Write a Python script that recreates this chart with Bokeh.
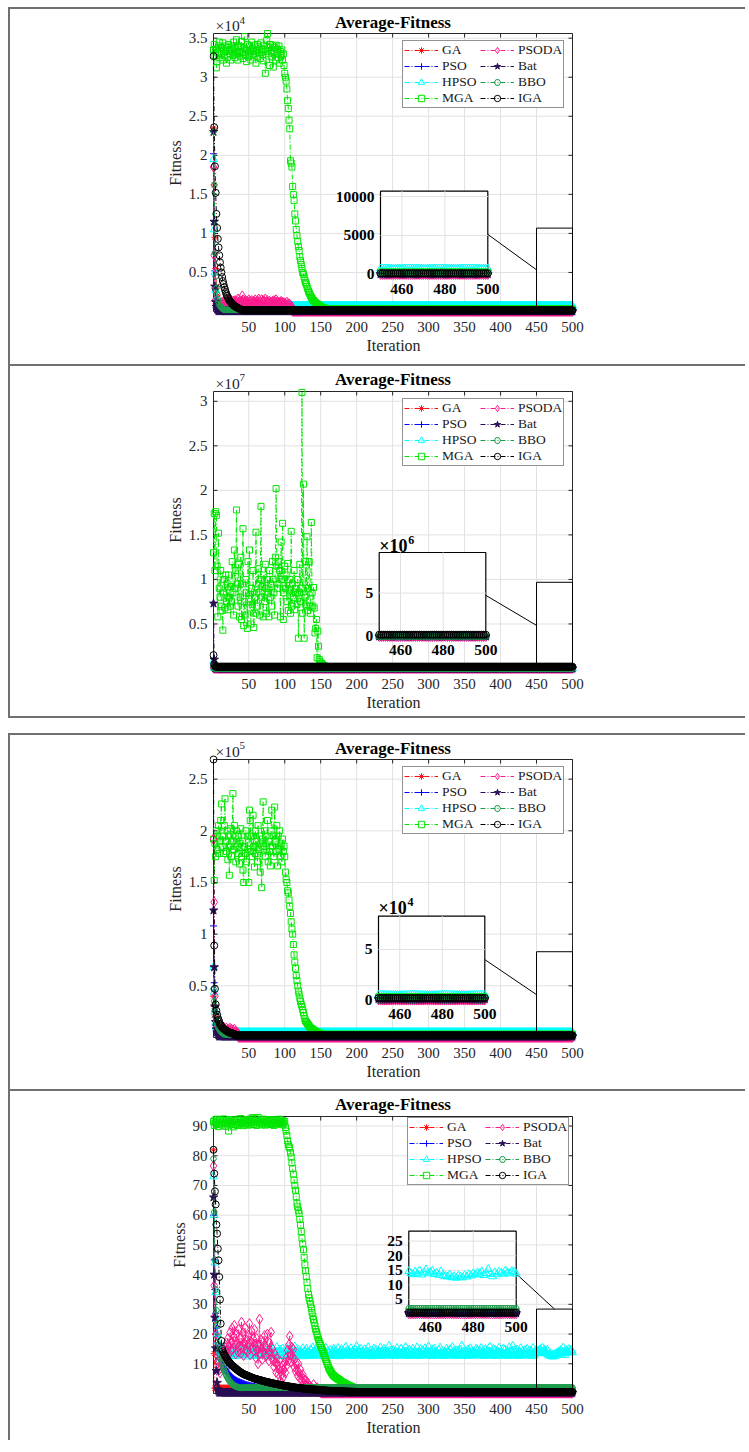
from bokeh.plotting import figure
from bokeh.models import (ColumnDataSource, Range1d, FixedTicker, NumeralTickFormatter,
                          Legend, LegendItem, Spacer)
from bokeh.layouts import column, row
from bokeh.embed import file_html
from bokeh.resources import INLINE
from bokeh.core.properties import value

N = 500
ITER = list(range(1, N + 1))
X_TICKS = [50, 100, 150, 200, 250, 300, 350, 400, 450, 500]
INSET_X_TICKS = [460, 480, 500]
SERIES = ["GA", "PSO", "HPSO", "MGA", "PSODA", "Bat", "BBO", "IGA"]
TITLE = "Average-Fitness"


def run(head, steady):
    """values read for the first iterations, then the steady value read for the rest"""
    return list(head) + [steady] * (N - len(head))


def nums(s):
    return [float(v) for v in s.split()]


# ---------------- panel 1 (x 10^4) ----------------
GA_1 = run([2.35, 1.62, 0.95, 0.55, 0.32, 0.2, 0.13, 0.09, 0.06, 0.05, 0.04, 0.03], 0.02)
PSO_1 = run([2.02, 1.12, 0.52, 0.28, 0.16, 0.1, 0.07, 0.05, 0.04, 0.03], 0.015)
HPSO_1 = run([1.95, 1.05, 0.5, 0.27, 0.16, 0.11, 0.09, 0.08], 0.075)
MGA_1 = run(nums("""
3.35 3.42 3.28 3.36 3.12 3.20 3.31 3.40 3.45 3.25
3.38 3.30 3.22 3.44 3.35 3.28 3.40 3.33 3.18 3.38
3.26 3.42 3.35 3.30 3.22 3.40 3.36 3.28 3.45 3.32
3.25 3.38 3.48 3.30 3.22 3.40 3.33 3.27 3.39 3.46
3.31 3.24 3.37 3.52 3.29 3.35 3.20 3.42 3.34 3.26
3.40 3.31 3.22 3.45 3.36 3.28 3.33 3.41 3.30 3.18
3.35 3.42 3.27 3.39 3.32 3.24 3.44 3.36 3.29 3.21
3.35 3.41 3.05 3.33 3.47 3.56 3.30 3.38 3.15 3.42
3.34 3.26 3.40 3.13 3.32 3.38 3.22 3.41 3.30 3.36
3.25 3.40 3.18 3.33 3.28 3.35 3.22 3.30 3.15 3.05
3.00 2.95 2.85 2.70 2.60 2.45 2.34 1.93 1.90 1.85
1.60 1.50 1.42 1.25 1.16 1.05 0.97 0.90 0.83 0.78
0.70 0.65 0.60 0.55 0.50 0.48 0.44 0.40 0.37 0.35
0.32 0.29 0.26 0.24 0.22 0.20 0.18 0.17 0.15 0.14
0.13 0.12 0.11 0.10 0.10 0.09 0.08 0.08 0.07 0.06
0.06 0.05 0.05 0.05 0.04 0.04 0.04 0.03 0.03 0.03
"""), 0.03)
PSODA_1 = run([1.85, 0.72, 0.3, 0.15, 0.1, 0.08, 0.06, 0.05, 0.05, 0.06] + nums("""
0.08 0.10 0.12 0.09 0.11 0.13 0.10 0.12 0.14 0.11
0.09 0.13 0.15 0.12 0.10 0.14 0.12 0.09 0.13 0.11
0.14 0.12 0.10 0.13 0.16 0.12 0.11 0.14 0.10 0.13
0.20 0.15 0.12 0.10 0.14 0.11 0.13 0.09 0.12 0.15
0.11 0.13 0.10 0.14 0.12 0.09 0.13 0.11 0.15 0.12
0.10 0.14 0.12 0.16 0.11 0.13 0.10 0.15 0.12 0.14
0.11 0.13 0.16 0.12 0.10 0.14 0.12 0.11 0.13 0.10
0.12 0.09 0.13 0.11 0.14 0.10 0.12 0.15 0.11 0.13
0.10 0.12 0.09 0.11 0.13 0.10 0.12 0.08 0.11 0.09
0.10 0.08 0.12 0.09 0.07 0.10 0.06 0.08 0.05 0.06
"""), 0.0)
Bat_1 = run([2.3, 1.15, 0.32, 0.12, 0.06, 0.03, 0.02], 0.005)
BBO_1 = run([2.3, 1.62, 0.75, 0.45, 0.3, 0.22, 0.16, 0.12, 0.09, 0.07, 0.06, 0.05,
             0.04, 0.035, 0.03], 0.02)
IGA_1 = run([3.27, 2.36, 1.86, 1.52, 1.25, 1.07, 0.93, 0.82, 0.72, 0.63, 0.56, 0.5,
             0.44, 0.39, 0.35, 0.31, 0.28, 0.25, 0.22, 0.2, 0.18, 0.16, 0.14, 0.13,
             0.12, 0.11, 0.1, 0.09, 0.08, 0.07, 0.065, 0.06, 0.055, 0.05, 0.045,
             0.04, 0.035, 0.03, 0.03, 0.025], 0.015)

# ---------------- panel 2 (x 10^7) ----------------
GA_2 = run([0.02, 0.005], 0.0)
PSO_2 = run([0.03, 0.005], 0.0)
HPSO_2 = run([0.08, 0.01], 0.003)
MGA_2 = run(nums("""
1.30 1.74 1.10 1.76 1.72 1.15 0.58 1.52 0.90 0.80
1.10 0.70 0.65 0.43 0.85 1.00 0.68 1.05 0.75 0.95
0.66 1.05 0.80 0.70 0.92 0.75 1.20 0.85 0.60 1.33
0.90 1.10 1.78 0.95 0.70 1.17 0.58 0.80 1.25 0.55
0.95 1.57 0.48 0.75 0.60 1.00 0.85 0.45 1.20 0.78
1.33 0.68 0.50 0.90 0.72 1.10 0.46 0.80 0.62 1.53
0.85 0.70 1.12 0.95 0.60 1.00 1.82 0.80 0.92 0.58
1.05 0.75 1.17 0.90 0.62 1.00 0.85 0.58 1.10 0.80
0.95 0.70 1.20 1.00 0.85 0.60 1.25 2.02 1.15 0.90
1.20 0.95 1.10 0.58 1.42 1.00 1.63 0.55 0.85 1.15
0.90 1.05 0.75 1.18 0.65 0.88 1.00 0.62 1.54 0.70
0.95 0.80 1.10 0.66 0.85 0.90 0.72 1.00 0.34 0.85
1.17 0.75 0.90 3.10 0.62 2.07 0.34 0.80 1.20 0.70
1.48 0.65 0.90 1.20 0.70 0.62 1.64 0.85 0.70 0.91
0.68 0.40 0.45 0.55 0.12 0.42 0.25 0.10 0.08 0.06
0.06 0.05 0.04 0.03 0.03 0.02 0.02 0.01 0.01 0.01
"""), 0.003)
PSODA_2 = run([0.01], 0.0)
Bat_2 = run([0.73, 0.1, 0.01], 0.0)
BBO_2 = run([0.02, 0.005], 0.0)
IGA_2 = run([0.15, 0.05, 0.03], 0.02)

# ---------------- panel 3 (x 10^5) ----------------
GA_3 = run([0.4, 0.3, 0.22, 0.12, 0.08, 0.06, 0.05, 0.04, 0.03], 0.02)
PSO_3 = run([1.08, 0.53, 0.25, 0.12, 0.08, 0.05, 0.04, 0.03], 0.02)
HPSO_3 = run([0.68, 0.44, 0.25, 0.14, 0.1, 0.08, 0.07, 0.06], 0.05)
MGA_3 = run(nums("""
1.92 1.52 1.88 1.75 2.00 1.82 1.95 2.05 1.78 1.90
2.10 2.26 1.85 1.95 1.78 2.05 2.31 1.90 1.80 2.00
1.72 1.95 1.57 1.85 2.02 1.75 1.90 2.36 1.82 2.05
1.95 1.70 2.00 1.85 1.78 1.95 1.68 1.88 2.02 1.75
1.90 1.62 1.50 1.85 1.78 2.00 1.70 1.95 1.82 1.50
2.20 2.10 1.80 1.95 1.75 2.15 1.85 1.65 2.00 1.78
1.90 1.70 2.05 1.82 1.95 1.60 1.88 1.45 1.92 2.28
1.85 2.00 1.75 1.95 1.82 2.10 1.70 1.90 1.80 1.66
2.00 2.20 1.85 1.95 1.75 2.23 1.90 1.80 2.05 1.66
1.95 1.82 2.00 1.75 1.88 1.70 1.92 1.80 1.85 1.75
1.60 1.53 1.50 1.42 1.40 1.33 1.27 1.20 1.12 1.05
1.00 0.90 0.80 0.73 0.67 0.60 0.55 0.50 0.45 0.42
0.38 0.35 0.32 0.30 0.27 0.24 0.21 0.18 0.16 0.15
0.14 0.13 0.12 0.11 0.10 0.09 0.09 0.08 0.08 0.07
0.07 0.06 0.06 0.05 0.05 0.05 0.04 0.04 0.04 0.03
"""), 0.03)
PSODA_3 = run([1.92, 1.31, 0.4, 0.2, 0.12, 0.09, 0.08, 0.07, 0.06, 0.05, 0.06, 0.07,
               0.09, 0.08, 0.1, 0.07, 0.08, 0.06, 0.09, 0.07, 0.08, 0.06, 0.07, 0.09,
               0.06, 0.08, 0.05, 0.07, 0.06, 0.08, 0.05, 0.06, 0.04, 0.05, 0.04], 0.0)
Bat_3 = run([1.23, 0.68, 0.3, 0.15, 0.08, 0.05, 0.03, 0.02], 0.01)
BBO_3 = run([0.47, 0.35, 0.26, 0.2, 0.16, 0.13, 0.11, 0.09, 0.08, 0.07, 0.06, 0.05,
             0.045, 0.04, 0.035], 0.03)
IGA_3 = run([2.69, 0.89, 0.47, 0.32, 0.26, 0.22, 0.19, 0.17, 0.15, 0.13, 0.12, 0.11,
             0.1, 0.09, 0.085, 0.08, 0.075, 0.07, 0.065, 0.06, 0.055, 0.05, 0.048,
             0.046, 0.044, 0.042, 0.04, 0.038, 0.036, 0.034], 0.02)

# ---------------- panel 4 (raw) ----------------
GA_4 = run([82.0, 13.4] + [1.8] * 45, 0.3)
PSO_4 = run(nums("""
60 45 35 27 22 19 17 15.5 14 13
12 11.3 10.6 10 9.4 8.9 8.4 8 7.6 7.2
6.9 6.6 6.3 6.0 5.8 5.6 5.4 5.2 5.0 4.8
4.6 4.5 4.4 4.2 4.1 4.0 3.9 3.8 3.7 3.6
3.5 3.4 3.3 3.2 3.1 3.0 2.9 2.85 2.8 2.7
2.65 2.6 2.55 2.5 2.45 2.4 2.35 2.3 2.25 2.2
2.15 2.1 2.05 2.0 1.98 1.95 1.92 1.9 1.87 1.85
1.82 1.8 1.77 1.75 1.72 1.7 1.68 1.66 1.64 1.62
1.6 1.58 1.56 1.54 1.52 1.5 1.48 1.46 1.44 1.42
1.4 1.38 1.36 1.34 1.32 1.3 1.28 1.26 1.24 1.22
"""), 0.8)
HPSO_4 = [73.0, 60.0, 44.0, 34.0, 25.0, 20.0, 17.5, 16.0, 15.0, 14.5] + nums("""
14.2 13.1 15.0 13.6 12.8 14.4 13.3 15.6 13.9 12.6
13.8 14.7 12.9 13.4 15.2 13.0 14.1 12.7 13.7 14.9
13.2 12.5 14.3 13.9 15.8 13.4 12.8 14.0 13.5 16.0
13.1 14.6 12.9 13.7 14.2 12.4 13.6 15.1 13.3 12.9
14.4 13.0 15.4 13.8 12.7 14.1 13.4 12.6 15.0 13.7
12.9 14.3 13.5 16.2 13.1 12.8 14.5 13.2 14.0 12.6
13.9 15.3 13.0 12.5 14.2 13.6 12.9 14.8 13.4 13.0
14.6 12.7 13.5 15.0 13.2 14.1 12.8 13.7 15.6 13.1
12.6 14.0 13.3 14.7 12.9 13.8 15.1 13.0 12.5 14.4
13.6 12.9 15.4 13.2 14.1 12.7 13.9 14.6 13.0 12.8
14.3 13.5 12.6 15.8 13.1 14.0 13.4 12.9 14.7 13.3
12.8 14.2 13.6 13.0 15.2 12.5 13.8 14.4 13.1 15.0
13.4 12.7 14.1 13.9 12.9 14.8 13.2 12.6 15.5 13.7
14.0 13.1 12.8 14.5 13.5 16.1 13.0 12.7 14.2 13.6
12.9 15.1 13.4 12.6 14.0 13.8 15.4 13.1 12.8 14.3
13.5 12.7 14.6 13.2 12.9 14.1 13.7 15.0 12.6 13.9
14.4 13.0 12.8 15.3 13.6 12.5 14.2 13.3 14.9 13.1
12.7 14.0 13.5 12.9 15.7 13.2 14.5 12.8 13.8 14.1
13.3 15.2 12.6 13.9 14.3 13.0 12.8 14.7 13.4 15.9
13.1 12.9 14.4 13.6 12.7 15.0 13.8 13.2 14.0 12.6
14.8 13.4 12.8 14.1 13.0 15.5 13.6 12.9 14.3 13.2
12.5 14.0 13.7 15.1 13.1 12.8 14.6 13.5 12.7 14.2
13.9 13.0 15.4 12.6 14.1 13.3 12.9 15.0 13.6 14.4
13.2 12.7 14.0 13.8 16.0 13.1 12.8 14.5 13.4 12.9
14.6 13.5 12.6 14.2 13.0 15.3 13.7 12.8 14.0 13.3
12.9 15.1 13.4 12.7 14.4 13.9 13.0 15.6 12.8 14.1
13.6 12.6 14.8 13.2 12.9 14.3 13.5 15.0 13.1 12.7
14.2 13.8 12.8 15.5 13.3 14.0 12.6 13.7 14.9 13.0
12.8 14.5 13.1 12.9 15.2 13.6 14.1 12.7 13.4 15.8
13.0 12.9 14.3 13.7 12.6 14.8 13.2 15.1 13.9 12.8
14.1 13.4 12.7 14.6 13.0 15.4 13.5 12.8 14.2 13.3
12.6 14.0 13.8 12.9 15.0 13.1 14.4 13.6 12.7 14.9
13.5 12.8 15.6 13.2 14.1 12.9 13.7 14.5 13.0 12.6
14.3 13.1 12.8 14.7 13.4 16.1 13.0 12.7 14.0 13.6
12.9 14.2 13.3 12.6 14.8 13.8 12.9 15.2 13.1 14.4
13.7 12.7 14.1 13.5 12.8 15.0 13.2 14.6 12.9 13.9
14.5 13.0 15.3 12.8 13.6 14.2 12.6 13.4 14.9 13.1
12.8 14.4 13.7 12.9 15.7 13.3 14.0 12.7 13.8 15.0
13.2 12.6 14.6 13.9 12.9 14.1 13.5 15.4 13.0 12.8
14.0 13.6 12.7 15.1 13.2 14.7 12.9 13.4 14.3 13.8
12.6 15.5 13.1 12.8 14.2 13.7 16.0 13.0 12.9 14.5
13.4 12.7 14.8 13.2 12.6 14.0 13.9 15.2 13.1 12.8
14.3 13.5 12.9 14.6 13.0 12.7 15.0 13.6 14.1 12.9
13.1 14.4 13.8 12.6 15.3 13.2 12.8 14.0 13.5 14.7
14.0 13.6 14.5 13.8 14.9 13.5 14.2 15.3 13.9 14.4
14.8 13.7 14.1 13.4 14.6 13.2 13.0 12.8 13.5 12.6
12.9 12.4 13.1 12.7 12.5 13.3 12.8 13.6 13.2 13.9
13.5 14.2 13.8 14.6 13.3 14.0 15.4 13.7 12.9 14.3
13.6 14.5 14.1 13.8 14.9 14.2 13.9 14.7 14.4 13.8
""")
MGA_4 = run(nums("""
91.5 90.2 92.0 91.0 90.5 92.3 91.2 89.8 91.8 90.6
92.1 91.0 90.3 91.7 92.4 90.8 91.3 89.9 91.9 90.7
91.4 88.3 92.2 90.9 91.6 90.4 92.0 91.1 89.7 91.8
90.5 91.9 91.2 90.2 92.3 91.0 90.6 91.7 92.5 90.9
91.3 90.1 92.0 91.5 90.4 91.8 90.8 92.2 91.1 90.3
91.7 92.4 90.6 91.2 92.8 91.0 90.5 91.9 92.6 91.3
90.2 91.8 92.9 91.4 90.7 92.1 91.0 90.4 91.6 92.3
90.9 91.5 90.3 92.0 91.2 90.6 91.8 92.2 90.8 91.4
92.0 90.5 91.7 91.1 90.2 92.1 91.3 90.8 91.9 91.0
90.6 92.3 91.4 90.9 92.0 91.2 90.4 91.7 90.8 91.5
89.5 88.3 86.8 85.0 83.8 83.0 82.6 81.0 79.6 77.6
75.7 73.8 71.8 70.0 68.4 66.2 64.0 62.8 61.5 60.6
58.6 56.7 54.5 52.3 50.3 48.4 45.8 43.3 41.3 39.4
37.4 35.3 33.3 32.2 31.1 30.0 28.7 27.3 26.0 24.9
23.8 22.7 21.6 20.8 19.9 19.0 18.2 17.5 16.8 16.2
15.5 14.9 14.2 13.5 12.8 12.2 11.5 10.8 10.2 9.5
8.8 8.2 7.8 7.4 7.0 6.6 6.3 6.0 5.8 5.6
5.4 5.2 5.0 4.9 4.8 4.6 4.4 4.2 4.0 3.8
3.7 3.6 3.5 3.3 3.2 3.0 2.9 2.8 2.7 2.6
2.5 2.4 2.3 2.2 2.1 2.0 1.9 1.8 1.7 1.6
"""), 0.8)
PSODA_4 = run(nums("""
76.6 36.3 26.0 20.0 16.7 13.0 11.0 9.0 8.0 7.0
8.5 10.0 12.5 11.0 14.0 12.0 15.5 13.0 17.0 14.5
18.5 13.0 16.0 20.5 14.5 17.5 22.0 15.0 19.0 22.9
16.5 13.3 20.0 17.0 14.0 21.5 16.0 18.5 13.5 24.0
15.5 20.5 12.8 17.0 22.0 15.0 18.0 14.0 16.5 19.5
23.5 13.0 17.5 21.0 15.5 18.5 14.5 21.5 16.0 12.0
18.5 14.5 10.0 16.5 25.0 13.5 18.0 15.0 11.5 17.5
14.0 19.5 16.0 12.5 15.0 20.0 13.5 11.0 17.0 14.0
20.6 12.0 15.0 11.0 9.0 13.5 10.5 7.1 12.0 9.5
6.5 8.0 11.0 4.3 7.5 6.4 9.5 5.5 8.0 10.5
7.0 12.0 9.5 14.5 11.0 16.5 19.3 13.0 10.5 15.5
12.0 14.8 9.0 11.5 7.5 10.0 8.0 6.0 10.0 7.0
5.0 8.0 6.0 4.5 6.4 5.0 3.5 4.5 3.0 4.3
2.5 3.5 2.0 2.8 1.8 2.2 1.5 1.8 1.2 3.0
1.0 1.3 0.8 1.0 2.0 0.7 0.6 0.5 0.5 0.4
"""), 0.1)
Bat_4 = run([66.0, 40.0, 25.5, 15.2, 7.6, 3.6, 1.5, 0.8], 0.3)
BBO_4 = run(nums("""
79 61 45 35 28 23 19 16.5 14.5 13
11.8 10.8 9.9 9.1 8.4 7.7 7.1 6.5 6.0 5.5
5.1 4.7 4.3 4.0 3.7 3.4 3.2 3.0 2.8 2.6
2.5 2.4 2.3 2.2 2.1 2.05 2.0 1.95 1.9 1.85
"""), 2.0)
IGA_4 = run(nums("""
82 74 68 63.6 56.8 53.8 48.7 44.8 39.2 31.6
23.5 17.7 15.0 14.2 13.6 13.1 12.7 12.3 11.9 11.5
11.1 10.8 10.5 10.2 9.9 9.6 9.4 9.2 9.0 8.8
8.6 8.4 8.2 8.0 7.8 7.6 7.4 7.25 7.1 6.95
6.8 6.65 6.5 6.4 6.3 6.2 6.1 6.0 5.9 5.8
5.7 5.6 5.5 5.4 5.3 5.2 5.1 5.0 4.95 4.9
4.8 4.75 4.7 4.6 4.55 4.5 4.4 4.35 4.3 4.2
4.15 4.1 4.0 3.95 3.9 3.85 3.8 3.75 3.7 3.6
3.55 3.5 3.45 3.4 3.35 3.3 3.25 3.2 3.15 3.1
3.05 3.0 2.95 2.9 2.85 2.8 2.75 2.7 2.65 2.6
2.56 2.52 2.48 2.44 2.4 2.36 2.32 2.28 2.24 2.2
2.16 2.12 2.08 2.04 2.0 1.97 1.94 1.91 1.88 1.85
1.82 1.79 1.76 1.73 1.7 1.67 1.64 1.61 1.58 1.55
1.52 1.5 1.48 1.46 1.44 1.42 1.4 1.38 1.36 1.34
1.32 1.3 1.28 1.26 1.24 1.22 1.2 1.18 1.16 1.14
1.12 1.1 1.08 1.06 1.04 1.02 1.0 0.98 0.96 0.94
0.92 0.91 0.9 0.89 0.88 0.87 0.86 0.85 0.84 0.83
0.82 0.81 0.8 0.79 0.78 0.77 0.76 0.75 0.74 0.73
0.72 0.71 0.7 0.69 0.68 0.67 0.66 0.65 0.64 0.63
0.62 0.61 0.6 0.59 0.58 0.57 0.56 0.55 0.54 0.53
"""), 0.5)

# axis ticks / labels
Y_TICKS_1 = [0.5, 1, 1.5, 2, 2.5, 3, 3.5]
Y_TICKS_2 = [0.5, 1, 1.5, 2, 2.5, 3]
Y_TICKS_3 = [0.5, 1, 1.5, 2, 2.5]
Y_TICKS_4 = [10, 20, 30, 40, 50, 60, 70, 80, 90]
INSET_Y_TICKS_1, INSET_Y_LABELS_1 = [0, 0.5, 1.0], ["0", "5000", "10000"]
INSET_Y_TICKS_2, INSET_Y_LABELS_2 = [0, 0.5], ["0", "5"]
INSET_Y_TICKS_3, INSET_Y_LABELS_3 = [0, 0.5], ["0", "5"]
INSET_Y_TICKS_4, INSET_Y_LABELS_4 = [5, 10, 15, 20, 25], ["5", "10", "15", "20", "25"]

DATA = [
    dict(GA=GA_1, PSO=PSO_1, HPSO=HPSO_1, MGA=MGA_1, PSODA=PSODA_1, Bat=Bat_1, BBO=BBO_1, IGA=IGA_1),
    dict(GA=GA_2, PSO=PSO_2, HPSO=HPSO_2, MGA=MGA_2, PSODA=PSODA_2, Bat=Bat_2, BBO=BBO_2, IGA=IGA_2),
    dict(GA=GA_3, PSO=PSO_3, HPSO=HPSO_3, MGA=MGA_3, PSODA=PSODA_3, Bat=Bat_3, BBO=BBO_3, IGA=IGA_3),
    dict(GA=GA_4, PSO=PSO_4, HPSO=HPSO_4, MGA=MGA_4, PSODA=PSODA_4, Bat=Bat_4, BBO=BBO_4, IGA=IGA_4),
]

STYLE = {
    "GA": dict(color="#ff1010", marker="asterisk", size=7, fill=False),
    "PSO": dict(color="#0000ff", marker="cross", size=7, fill=False),
    "HPSO": dict(color="#00ffff", marker="triangle", size=8, fill=False),
    "MGA": dict(color="#00e600", marker="square", size=6, fill=False),
    "PSODA": dict(color="#ff1a8c", marker="diamond", size=10, fill=False),
    "Bat": dict(color="#2a0f55", marker="star", size=9, fill=True),
    "BBO": dict(color="#1c9c4c", marker="hex", size=6, fill=False),
    "IGA": dict(color="#000000", marker="circle", size=7, fill=False),
}

BORDER = "2px solid #707070"
FONT = "Liberation Serif"
TXT = "#262626"
GRID = "#e1e1e1"
CANVAS_W = 737
LEFT = 199            # canvas -> frame
FRAME_W = 368
RIGHT = CANVAS_W - LEFT - FRAME_W
BOX_W = 359           # axes box width in px
PAD_L, PAD_B = 4, 5   # frame extends a little past the axes box so markers are not clipped
TICK_LEN = 4
LEG_W, LEG_H = 161, 66

PANELS = [
    dict(h=357, bt=24, H=278, ymax=3.56, yticks=Y_TICKS_1, exp="4", title_off=11, exp_off=8,
         leg=(9, 9), styles={"border-left": BORDER, "border-top": BORDER},
         inset=dict(box=(167, 274.3, 157.7, 244.1), ylim=(-0.04, 1.068), yt=INSET_Y_TICKS_1,
                    yl=INSET_Y_LABELS_1, exp=None, link="left", xl_off=11)),
    dict(h=354, bt=25, H=277, ymax=3.11, yticks=Y_TICKS_2, exp="7", title_off=12, exp_off=8.5,
         leg=(9, 9), styles={"border-left": BORDER, "border-top": BORDER, "border-bottom": BORDER},
         inset=dict(box=(165.7, 272.3, 161, 246.7), ylim=(-0.02, 0.968), yt=INSET_Y_TICKS_2,
                    yl=INSET_Y_LABELS_2, exp="6", exp_off=7, link="left", xl_off=12)),
    dict(h=356, bt=24, H=278, ymax=2.69, yticks=Y_TICKS_3, exp="5", title_off=11, exp_off=8.5,
         leg=(9, 9), styles={"border-left": BORDER, "border-top": BORDER},
         inset=dict(box=(165, 271.3, 156.6, 243.6), ylim=(-0.03, 0.83), yt=INSET_Y_TICKS_3,
                    yl=INSET_Y_LABELS_3, exp="4", exp_off=8.5, link="left", xl_off=11)),
    dict(h=351, bt=25, H=277, ymax=93.2, yticks=Y_TICKS_4, exp=None, title_off=12.5, exp_off=8,
         leg=(4, 2.5), styles={"border-left": BORDER, "border-top": BORDER},
         inset=dict(box=(195.3, 302.7, 114.7, 199.9), ylim=(-0.8, 28.4), yt=INSET_Y_TICKS_4,
                    yl=INSET_Y_LABELS_4, exp=None, link="top", xl_off=11)),
]


def lin(pa, va, pb, vb, size):
    """range whose values va, vb fall at pixels pa, pb of a span of `size` pixels"""
    k = (vb - va) / (pb - pa)
    start = va - pa * k
    return start, start + size * k


def draw_series(p, name, ys, xs, **rng):
    st = STYLE[name]
    src = ColumnDataSource(dict(x=xs, y=ys))
    lr = p.line("x", "y", source=src, line_color=st["color"], line_width=1, line_dash="5 2 1 2", **rng)
    sr = p.scatter("x", "y", source=src, marker=st["marker"], size=st["size"], line_color=st["color"],
                   fill_color=st["color"] if st["fill"] else None, line_width=1, **rng)
    return lr, sr


def build(cfg, data):
    bt, H, ymax = cfg["bt"], cfg["H"], cfg["ymax"]
    HF = bt + H + PAD_B
    xs, xe = lin(PAD_L, 1, PAD_L + BOX_W, 500, FRAME_W)
    ys, ye = lin(PAD_B, 0, PAD_B + H, ymax, HF)
    p = figure(width=CANVAS_W, height=cfg["h"], output_backend="svg", toolbar_location=None,
               x_range=Range1d(xs, xe), y_range=Range1d(ys, ye),
               min_border_left=LEFT, min_border_right=RIGHT,
               min_border_top=0, min_border_bottom=cfg["h"] - HF,
               background_fill_color="white", border_fill_color="white",
               outline_line_color=None, styles=cfg["styles"])

    p.xaxis.ticker = FixedTicker(ticks=X_TICKS)
    p.yaxis.ticker = FixedTicker(ticks=cfg["yticks"])
    if cfg["exp"]:
        p.yaxis.formatter = NumeralTickFormatter(format="0.[0]")
    p.xaxis.axis_label = "Iteration"
    p.yaxis.axis_label = "Fitness"
    for ax in (p.xaxis, p.yaxis):
        ax.major_label_text_font = FONT
        ax.major_label_text_font_size = "15px"
        ax.major_label_text_color = TXT
        ax.axis_label_text_font = FONT
        ax.axis_label_text_font_size = "16px"
        ax.axis_label_text_font_style = "normal"
        ax.axis_label_text_color = TXT
        ax.axis_line_color = None
        ax.major_tick_line_color = None
        ax.major_tick_in = 0
        ax.major_tick_out = 0
        ax.minor_tick_line_color = None
        ax.minor_tick_in = 0
        ax.minor_tick_out = 0
    p.xaxis.major_label_standoff = 5
    p.xaxis.axis_label_standoff = 2
    p.yaxis.major_label_standoff = 2
    p.yaxis.axis_label_standoff = 2
    p.xgrid.grid_line_color = None
    p.ygrid.grid_line_color = None

    # grid, axes box and inward tick marks
    yt = cfg["yticks"]
    nx, ny = len(X_TICKS), len(yt)
    p.segment(x0=X_TICKS, x1=X_TICKS, y0=[0] * nx, y1=[ymax] * nx, line_color=GRID, line_width=1)
    p.segment(x0=[1] * ny, x1=[500] * ny, y0=yt, y1=yt, line_color=GRID, line_width=1)
    p.segment(x0=[1, 500, 1, 1], x1=[1, 500, 500, 500], y0=[0, 0, ymax, 0], y1=[ymax, ymax, ymax, 0],
              line_color=TXT, line_width=1)
    ty = TICK_LEN * ymax / H
    tx = TICK_LEN * 499 / BOX_W
    p.segment(x0=X_TICKS * 2, x1=X_TICKS * 2, y0=[0] * nx + [ymax] * nx,
              y1=[ty] * nx + [ymax - ty] * nx, line_color=TXT, line_width=1)
    p.segment(x0=[1] * ny + [500] * ny, x1=[1 + tx] * ny + [500 - tx] * ny, y0=yt * 2, y1=yt * 2,
              line_color=TXT, line_width=1)

    items = []
    for name in SERIES:
        lr, sr = draw_series(p, name, data[name], ITER)
        items.append(LegendItem(label=name, renderers=[lr, sr]))

    # ---- zoom inset ----
    ins = cfg["inset"]
    il, ir, it, ib = ins["box"]
    y0, y1 = ins["ylim"]
    p.extra_x_ranges = {"ix": Range1d(*lin(il + PAD_L, 450, ir + PAD_L, 500, FRAME_W))}
    p.extra_y_ranges = {"iy": Range1d(*lin(HF - (ib + bt), y0, HF - (it + bt), y1, HF))}
    irng = dict(x_range_name="ix", y_range_name="iy")

    # rectangle marking the zoomed region on the main axes
    p.quad(left=[450], right=[500], bottom=[0], top=[y1], fill_color=None, line_color="black", line_width=1)
    # connector from the inset's right edge
    cpx, cpy = ir + PAD_L, bt + (it + ib) / 2
    mx = xs + cpx * (xe - xs) / FRAME_W
    my = ys + (HF - cpy) * (ye - ys) / HF
    if ins["link"] == "left":
        ex, ey = 450, y1 / 2
    else:
        ex, ey = 475, y1
    p.line([mx, ex], [my, ey], line_color="black", line_width=1)

    # inset background, grid, data
    p.quad(left=[450], right=[500], bottom=[y0], top=[y1], fill_color="white", line_color="black",
           line_width=1.2, **irng)
    p.segment(x0=INSET_X_TICKS[:2], x1=INSET_X_TICKS[:2], y0=[y0] * 2, y1=[y1] * 2,
              line_color=GRID, line_width=1, **irng)
    hy = [t for t in ins["yt"] if y0 < t < y1]
    p.segment(x0=[450] * len(hy), x1=[500] * len(hy), y0=hy, y1=hy, line_color=GRID, line_width=1, **irng)
    for name in SERIES:
        draw_series(p, name, data[name][449:], ITER[449:], **irng)
    bold = dict(text_font=value(FONT), text_font_style="bold", text_color="black")
    p.text(x=[450] * len(ins["yt"]), y=ins["yt"], text=ins["yl"], x_offset=-6,
           text_align="right", text_baseline="middle", text_font_size="15.5px", **bold, **irng)
    p.text(x=INSET_X_TICKS, y=[y0] * 3, text=[str(v) for v in INSET_X_TICKS], y_offset=ins["xl_off"],
           text_align="center", text_baseline="middle", text_font_size="15.5px", **bold, **irng)
    if ins["exp"]:
        p.text(x=[450], y=[y1], text=["×10"], y_offset=-ins["exp_off"], text_align="left",
               text_baseline="middle", text_font_size="18px", **bold, **irng)
        p.text(x=[450], y=[y1], text=[ins["exp"]], x_offset=29, y_offset=-ins["exp_off"] - 6,
               text_align="left", text_baseline="middle", text_font_size="12px", **bold, **irng)

    # title and exponent, above the axes box
    p.text(x=[250.5], y=[ymax], text=[TITLE], y_offset=-cfg["title_off"], text_align="center",
           text_baseline="middle", text_font_size="17px", **bold)
    if cfg["exp"]:
        reg = dict(text_font=value(FONT), text_color=TXT, text_align="left", text_baseline="middle")
        p.text(x=[1], y=[ymax], text=["×10"], x_offset=2, y_offset=-cfg["exp_off"], text_font_size="15.5px", **reg)
        p.text(x=[1], y=[ymax], text=[cfg["exp"]], x_offset=26, y_offset=-cfg["exp_off"] - 5.5,
               text_font_size="11px", **reg)

    rm, tm = cfg["leg"]
    lx = PAD_L + BOX_W - rm - LEG_W
    ly = HF - (bt + tm) - LEG_H
    leg = Legend(items=items, location=(lx, ly), orientation="vertical", nrows=4,
                 margin=0, padding=1, spacing=0, glyph_width=34, glyph_height=16,
                 label_height=16, label_width=38, label_standoff=4, label_text_font=FONT,
                 label_text_font_size="13.5px", label_text_color="#1a1a1a",
                 border_line_color=TXT, border_line_width=1,
                 background_fill_color="white", background_fill_alpha=1.0)
    p.add_layout(leg)
    return p


figs = [build(cfg, d) for cfg, d in zip(PANELS, DATA)]
cells = column(Spacer(height=7), figs[0], figs[1], Spacer(height=15), figs[2], figs[3], spacing=0)
layout = row(Spacer(width=8), cells, spacing=0)
open("out.html", "w").write(file_html(layout, INLINE))
